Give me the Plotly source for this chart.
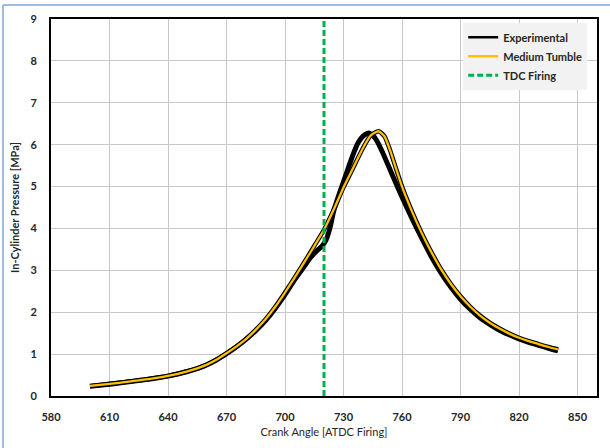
import plotly.graph_objects as go

# Crank angle [ATDC Firing] and in-cylinder pressure [MPa]
ca_exp = [600, 605, 610, 615, 620, 625, 630, 635, 640, 645, 650, 655, 660, 665, 670,
          675, 680, 685, 690, 695, 700, 705, 710, 713, 716, 719, 721, 723, 725, 728,
          731, 734, 737, 739, 741, 743, 745, 747, 750, 755, 760, 765, 770, 775, 780,
          785, 790, 795, 800, 805, 810, 815, 820, 825, 830, 835, 840]
p_exp = [0.23, 0.255, 0.28, 0.31, 0.34, 0.37, 0.40, 0.435, 0.475, 0.525, 0.585, 0.655, 0.745, 0.865, 1.01,
         1.17, 1.35, 1.56, 1.80, 2.09, 2.42, 2.78, 3.10, 3.30, 3.45, 3.58, 3.72, 4.00, 4.42, 4.85,
         5.25, 5.65, 6.00, 6.15, 6.24, 6.28, 6.22, 6.10, 5.82, 5.28, 4.75, 4.25, 3.78, 3.33, 2.94,
         2.60, 2.31, 2.07, 1.87, 1.71, 1.57, 1.46, 1.36, 1.28, 1.21, 1.14, 1.08]

ca_sim = [600, 605, 610, 615, 620, 625, 630, 635, 640, 645, 650, 655, 660, 665, 670,
          675, 680, 685, 690, 695, 700, 705, 710, 715, 720, 725, 730, 735, 740, 744,
          748, 751, 754, 757, 760, 765, 770, 775, 780, 785, 790, 795, 800, 805, 810,
          815, 820, 825, 830, 835, 840]
p_sim = [0.24, 0.265, 0.29, 0.315, 0.345, 0.375, 0.405, 0.44, 0.48, 0.53, 0.59, 0.66, 0.75, 0.87, 1.02,
         1.18, 1.36, 1.58, 1.83, 2.13, 2.47, 2.83, 3.20, 3.58, 3.97, 4.45, 4.98, 5.45, 5.92, 6.22,
         6.32, 6.20, 5.85, 5.42, 5.00, 4.42, 3.90, 3.44, 3.03, 2.68, 2.38, 2.13, 1.92, 1.75, 1.61,
         1.49, 1.39, 1.31, 1.24, 1.17, 1.11]

tdc_x = [720, 720]
tdc_y = [0, 9]

x_ticks = [580, 610, 640, 670, 700, 730, 760, 790, 820, 850]
y_ticks = [0, 1, 2, 3, 4, 5, 6, 7, 8, 9]

FONT = "Lato"
TXT = "#262626"
SPL = dict(shape="spline", smoothing=0.6)

fig = go.Figure()
fig.add_trace(go.Scatter(x=ca_exp, y=p_exp, mode="lines", showlegend=False,
                         line=dict(color="black", width=5, **SPL)))
fig.add_trace(go.Scatter(x=ca_sim, y=p_sim, mode="lines", showlegend=False, hoverinfo="skip",
                         line=dict(color="black", width=4.5, **SPL)))
fig.add_trace(go.Scatter(x=ca_sim, y=p_sim, mode="lines", showlegend=False,
                         line=dict(color="#FFC000", width=2.3, **SPL)))
fig.add_trace(go.Scatter(x=tdc_x, y=tdc_y, mode="lines", showlegend=False,
                         line=dict(color="#00B050", width=3, dash="6px,3px")))
# legend entries
fig.add_trace(go.Scatter(x=[None], y=[None], mode="lines", name="Experimental",
                         line=dict(color="black", width=2.5)))
fig.add_trace(go.Scatter(x=[None], y=[None], mode="lines", name="Medium Tumble",
                         line=dict(color="#FFC000", width=2.5)))
fig.add_trace(go.Scatter(x=[None], y=[None], mode="lines", name="TDC Firing",
                         line=dict(color="#00B050", width=3, dash="6px,3px")))

fig.update_layout(
    width=610, height=448,
    margin=dict(l=51, r=11, t=19, b=49),
    paper_bgcolor="white", plot_bgcolor="white",
    font=dict(family=FONT, size=11, color=TXT),
    showlegend=True,
    legend=dict(x=0.982, y=0.99, xanchor="right", yanchor="top",
                bgcolor="#F2F2F2", borderwidth=0,
                font=dict(family=FONT, size=11, color=TXT, weight="bold"),
                tracegroupgap=0, itemwidth=30),
    xaxis=dict(range=[580, 860], tickvals=x_ticks, showgrid=True, gridcolor="#C8C8C8", gridwidth=1,
               showline=True, mirror=True, linecolor="black", linewidth=2, zeroline=False,
               ticks="", ticklabelstandoff=10,
               tickfont=dict(family=FONT, size=11, color=TXT, weight="bold"),
               title=dict(text="Crank Angle [ATDC Firing]", standoff=6,
                          font=dict(family=FONT, size=11, color=TXT))),
    yaxis=dict(range=[0, 9], tickvals=y_ticks, showgrid=True, gridcolor="#C8C8C8", gridwidth=1,
               showline=True, mirror=True, linecolor="black", linewidth=2, zeroline=False,
               ticks="", ticklabelstandoff=10,
               tickfont=dict(family=FONT, size=11, color=TXT, weight="bold"),
               title=dict(text="In-Cylinder Pressure [MPa]", standoff=9,
                          font=dict(family=FONT, size=11, color=TXT, weight="bold"))),
    shapes=[
        dict(type="line", xref="paper", yref="paper", xsizemode="pixel", ysizemode="pixel",
             xanchor=0, yanchor=1, x0=-48, x1=-48, y0=14, y1=-440,
             line=dict(color="#7EA6D8", width=1.5)),
        dict(type="line", xref="paper", yref="paper", xsizemode="pixel", ysizemode="pixel",
             xanchor=0, yanchor=1, x0=-48, x1=570, y0=14, y1=14,
             line=dict(color="#7EA6D8", width=1.5)),
    ],
)

fig.write_html("out.html", config={"displayModeBar": False},
               post_script="document.body.style.margin='0';document.body.style.overflow='hidden';")
